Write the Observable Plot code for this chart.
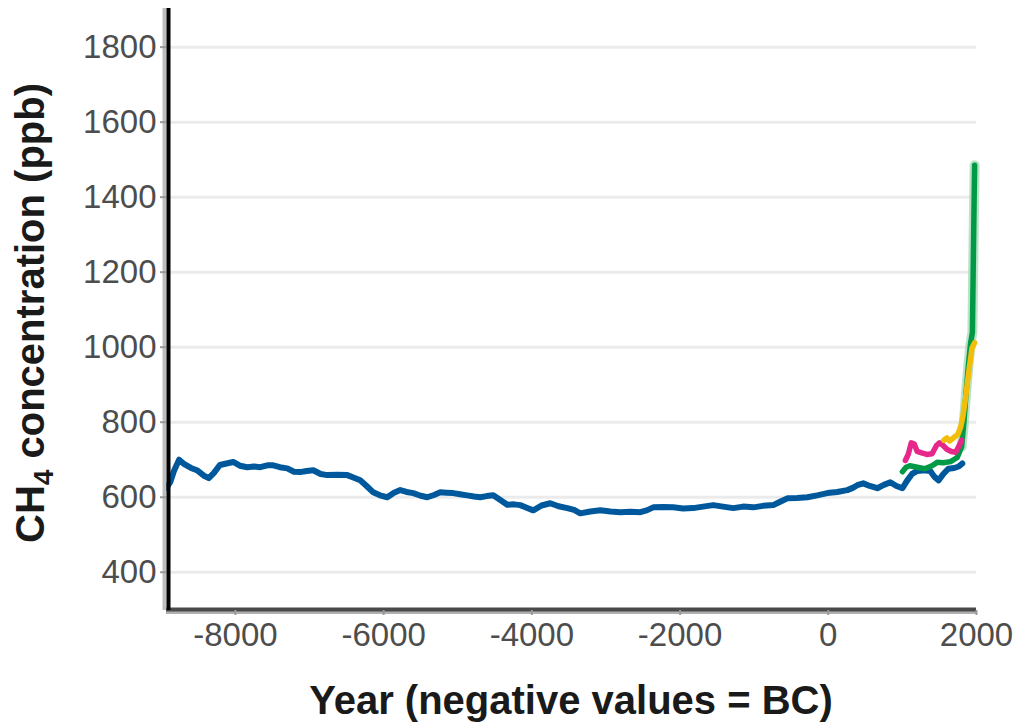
<!DOCTYPE html>
<html><head><meta charset="utf-8">
<script src="https://cdn.jsdelivr.net/npm/d3@7"></script>
<script src="https://cdn.jsdelivr.net/npm/@observablehq/plot@0.6"></script>
<style>
body{margin:0;background:#fff;}
#chart svg{display:block;}
</style>
</head><body><div id="chart"></div>
<script>
// ---- data ----
const blueYears = [-8930,-8880,-8830,-8760,-8690,-8600,-8520,-8430,-8360,-8290,-8210,-8120,-8030,-7940,-7840,-7750,-7665,-7570,-7490,-7400,-7300,-7210,-7125,-7040,-6950,-6850,-6760,-6620,-6490,-6400,-6316,-6230,-6140,-6050,-5951,-5860,-5776,-5690,-5600,-5500,-5411,-5320,-5236,-5150,-5061,-4970,-4872,-4780,-4696,-4610,-4521,-4430,-4332,-4240,-4157,-4070,-3981,-3870,-3752,-3640,-3522,-3430,-3347,-3210,-3077,-2940,-2807,-2670,-2537,-2450,-2362,-2230,-2092,-1960,-1822,-1690,-1552,-1420,-1282,-1150,-1012,-880,-742,-650,-553,-420,-283,-150,-13,120,256,330,391,472,560,661,750,837,920,1000,1066,1130,1201,1290,1377,1430,1490,1552,1620,1700,1760,1808];
const blueValues = [625,640,670,700,688,678,672,658,651,665,686,690,694,684,680,682,680,685,685,680,677,668,667,670,672,662,659,660,659,652,645,630,613,605,600,612,619,614,611,604,600,606,613,612,611,608,605,602,600,603,605,593,580,581,579,572,565,578,584,576,571,566,557,562,565,562,560,561,560,565,573,574,573,570,571,575,579,575,571,575,573,577,579,588,597,598,600,605,611,614,619,625,632,637,630,624,633,640,630,624,645,662,670,672,670,655,645,662,676,678,682,690];

const greenYears = [1000,1050,1100,1200,1300,1400,1470,1550,1650,1740,1800,1830,1860,1890,1920,1945,1955,1965,1975];
const greenValues = [668,680,684,680,676,684,693,692,695,706,735,800,880,950,1010,1040,1200,1350,1485];

const pinkYears = [1040,1080,1120,1160,1200,1260,1330,1400,1460,1500,1550,1600,1660,1720,1760,1800];
const pinkValues = [698,715,745,742,722,718,714,716,738,745,738,728,722,720,735,752];

const yellowYears = [1560,1600,1640,1700,1750,1790,1820,1850,1880,1910,1940,1975];
const yellowValues = [752,758,750,760,768,790,820,860,910,955,998,1012];

const xTicks = [-8000,-6000,-4000,-2000,0,2000];
const yTicks = [400,600,800,1000,1200,1400,1600,1800];
const xDomain = [-8930, 2000];
const yDomain = [298, 1903];

const toRows = (ys, vs) => ys.map((y, i) => ({year: y, ch4: vs[i]}));
const blue = toRows(blueYears, blueValues);
const green = toRows(greenYears, greenValues);
const pink = toRows(pinkYears, pinkValues);
const yellow = toRows(yellowYears, yellowValues);
const halo = green.filter(d => d.year >= 1790);

const fmt = d => String(d);

const chart = Plot.plot({
  width: 1017,
  height: 724,
  marginLeft: 166,
  marginRight: 41,
  marginTop: 8,
  marginBottom: 114,
  style: {fontFamily: "'Liberation Sans', Arial, sans-serif", background: "#fff"},
  x: {domain: xDomain},
  y: {domain: yDomain},
  marks: [
    Plot.gridY(yTicks, {stroke: "#ebebeb", strokeOpacity: 1, strokeWidth: 3}),
    Plot.line(halo, {x: "year", y: "ch4", stroke: "#a6dcb9", strokeWidth: 10, strokeOpacity: 0.8}),
    Plot.line(blue, {x: "year", y: "ch4", stroke: "#00589c", strokeWidth: 6, strokeLinejoin: "round"}),
    Plot.line(green, {x: "year", y: "ch4", stroke: "#009a46", strokeWidth: 5.5, strokeLinejoin: "round"}),
    Plot.line(pink, {x: "year", y: "ch4", stroke: "#e6288a", strokeWidth: 5.5, strokeLinejoin: "round"}),
    Plot.line(yellow, {x: "year", y: "ch4", stroke: "#f2be0a", strokeWidth: 5.5, strokeLinejoin: "round"}),
    Plot.ruleY([yDomain[0]], {stroke: "#b0b0b0", strokeWidth: 3, dy: 2}),
    Plot.ruleY([yDomain[0]], {stroke: "#4a4a4a", strokeWidth: 4, dy: -1}),
    Plot.ruleX([xDomain[0]], {stroke: "#bdbdbd", strokeWidth: 4, dx: -2}),
    Plot.ruleX([xDomain[0]], {stroke: "#000", strokeWidth: 4, dx: 2}),
    Plot.axisY(yTicks, {tickSize: 6, tickPadding: 4, fontSize: 33, fill: "#4d4d4d", stroke: "#999", strokeWidth: 2, label: null, tickFormat: fmt}),
    Plot.axisX(xTicks, {tickSize: 5, tickPadding: 7, fontSize: 33, fill: "#4d4d4d", stroke: "#999", strokeWidth: 2, label: null, tickFormat: fmt})
  ]
});
document.getElementById("chart").appendChild(chart);

// axis titles
const svg = d3.select(chart);
svg.append("text")
  .attr("x", 571).attr("y", 714)
  .attr("text-anchor", "middle")
  .attr("font-size", 40).attr("font-weight", "bold").attr("fill", "#1a1a1a")
  .text("Year (negative values = BC)");
const yt = svg.append("text")
  .attr("transform", "translate(44,313) rotate(-90)")
  .attr("text-anchor", "middle")
  .attr("font-size", 40).attr("font-weight", "bold").attr("fill", "#1a1a1a");
yt.append("tspan").text("CH");
yt.append("tspan").attr("font-size", 28).attr("dy", 9).text("4");
yt.append("tspan").attr("dy", -9).text(" concentration (ppb)");
</script>
</body></html>
